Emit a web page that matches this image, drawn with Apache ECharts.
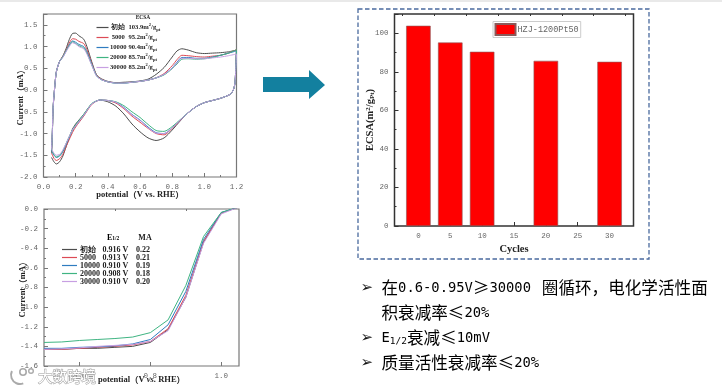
<!DOCTYPE html>
<html>
<head>
<meta charset="utf-8">
<title>ECSA</title>
<style>
  html, body { margin: 0; padding: 0; background: #fff; }
  #chart { width: 722px; height: 392px; filter: blur(0.35px); }
</style>
<script src="https://cdn.jsdelivr.net/npm/echarts@6/dist/echarts.min.js"></script>
</head>
<body>
<div id="chart"></div>
<script>
  // CV curves: anodic sweep, then back down from 1.2 V
  const cvPotential = [0.05,0.055,0.06,0.07,0.08,0.1,0.12,0.14,0.16,0.18,0.2,0.22,0.25,0.27,0.3,0.33,0.36,0.4,0.45,0.5,0.55,0.6,0.65,0.7,0.75,0.8,0.83,0.86,0.9,0.95,1.0,1.05,1.1,1.15,1.2,
    1.195,1.19,1.18,1.16,1.1,1.05,1.0,0.95,0.9,0.85,0.8,0.75,0.7,0.65,0.6,0.55,0.5,0.45,0.4,0.35,0.3,0.25,0.2,0.18,0.15,0.12,0.1,0.08,0.065,0.05];
  const cvInitial = [-1.45,-1,-0.4,0.08,0.42,0.66,0.78,0.95,1.16,1.3,1.31,1.25,1.17,1,0.65,0.35,0.26,0.2,0.17,0.18,0.19,0.21,0.25,0.36,0.52,0.76,0.9,0.95,0.92,0.86,0.84,0.85,0.86,0.88,0.92,
    0.45,0.15,0,-0.1,-0.19,-0.24,-0.29,-0.38,-0.52,-0.71,-0.92,-1.1,-1.16,-1.1,-0.96,-0.78,-0.55,-0.37,-0.27,-0.23,-0.32,-0.56,-0.78,-0.9,-1.2,-1.52,-1.65,-1.7,-1.65,-1.55];
  const cv5000 = [-1.42,-0.98,-0.4,0.08,0.42,0.66,0.77,0.92,1.08,1.18,1.17,1.12,1.07,0.93,0.62,0.34,0.25,0.19,0.17,0.17,0.18,0.2,0.23,0.28,0.38,0.56,0.7,0.8,0.79,0.77,0.76,0.78,0.8,0.85,0.93,
    0.45,0.15,0,-0.1,-0.19,-0.24,-0.29,-0.38,-0.52,-0.7,-0.88,-1.03,-1,-0.88,-0.74,-0.6,-0.43,-0.3,-0.24,-0.23,-0.33,-0.6,-0.85,-0.98,-1.22,-1.48,-1.58,-1.62,-1.57,-1.45];
  const cv10000 = [-1.4,-0.98,-0.4,0.08,0.42,0.66,0.76,0.9,1.04,1.13,1.1,1.05,1,0.88,0.6,0.33,0.24,0.19,0.16,0.16,0.18,0.2,0.23,0.28,0.36,0.51,0.64,0.75,0.75,0.73,0.73,0.76,0.8,0.85,0.9,
    0.45,0.15,0,-0.1,-0.19,-0.24,-0.29,-0.38,-0.52,-0.69,-0.87,-1,-0.98,-0.85,-0.69,-0.56,-0.4,-0.28,-0.24,-0.23,-0.32,-0.58,-0.82,-0.93,-1.17,-1.42,-1.52,-1.55,-1.5,-1.4];
  const cv20000 = [-1.38,-0.96,-0.38,0.08,0.42,0.66,0.76,0.9,1.02,1.11,1.07,1.02,0.97,0.85,0.58,0.33,0.24,0.19,0.16,0.16,0.18,0.2,0.23,0.28,0.35,0.49,0.6,0.71,0.72,0.71,0.72,0.75,0.8,0.85,0.93,
    0.45,0.15,0,-0.1,-0.19,-0.24,-0.29,-0.38,-0.52,-0.68,-0.84,-0.95,-0.93,-0.79,-0.63,-0.5,-0.36,-0.27,-0.24,-0.23,-0.31,-0.56,-0.8,-0.92,-1.15,-1.4,-1.5,-1.54,-1.48,-1.38];
  const cv30000 = [-1.36,-0.94,-0.38,0.08,0.42,0.66,0.75,0.88,1,1.09,1.06,1,0.95,0.83,0.57,0.32,0.24,0.19,0.16,0.16,0.18,0.2,0.23,0.28,0.36,0.5,0.62,0.73,0.73,0.72,0.72,0.74,0.76,0.79,0.83,
    0.45,0.15,0,-0.1,-0.19,-0.24,-0.29,-0.38,-0.52,-0.69,-0.87,-1,-0.99,-0.87,-0.7,-0.57,-0.41,-0.28,-0.24,-0.23,-0.32,-0.58,-0.82,-0.92,-1.15,-1.38,-1.48,-1.5,-1.45,-1.36];

  // polarization curves
  const lsvPotential = [0.5,0.55,0.6,0.65,0.7,0.75,0.8,0.85,0.9,0.95,1,1.05];
  const lsvInitial = [-1.43,-1.43,-1.42,-1.42,-1.41,-1.4,-1.36,-1.23,-0.9,-0.34,-0.04,0.02];
  const lsv5000 = [-1.43,-1.43,-1.42,-1.41,-1.4,-1.385,-1.35,-1.22,-0.88,-0.33,-0.04,0.02];
  const lsv10000 = [-1.42,-1.42,-1.41,-1.405,-1.395,-1.375,-1.33,-1.18,-0.84,-0.31,-0.035,0.02];
  const lsv20000 = [-1.36,-1.355,-1.34,-1.33,-1.32,-1.305,-1.26,-1.13,-0.78,-0.28,-0.035,0.02];
  const lsv30000 = [-1.43,-1.425,-1.415,-1.4,-1.39,-1.38,-1.35,-1.24,-0.9,-0.35,-0.05,0.02];

  // bars
  const barCycles = [0, 5, 10, 20, 30];
  const barEcsa = [103.9, 95.2, 90.4, 85.7, 85.2];
  const cycleTicks = [0, 5, 10, 15, 20, 25, 30];
  const cycleMinorTicks = [-2.5, 2.5, 7.5, 12.5, 17.5, 22.5, 27.5, 32.5];

  const seriesNames = ['初始', '5000', '10000', '20000', '30000'];
  const seriesColors = ['#4d4d4d', '#dc4a55', '#2f7cc0', '#3fb482', '#c79fe2'];
  const ecsaLabels = ['103.9', '95.2', '90.4', '85.7', '85.2'];
  const halfWaveLabels = ['0.916 V', '0.913 V', '0.910 V', '0.908 V', '0.910 V'];
  const massActivityLabels = ['0.22', '0.21', '0.19', '0.18', '0.20'];

  const serif = '"Liberation Serif", serif';
  const mono = '"Liberation Mono", monospace';
  const cjk = '"Noto Sans CJK SC", sans-serif';
  const latin = '"DejaVu Sans Mono", monospace';

  function pairs(xs, ys) {
    return xs.map((x, i) => [x, ys[i]]);
  }

  function valueAxis(gridIndex, min, max, interval, color) {
    return {
      type: 'value', gridIndex, min, max, interval,
      splitLine: { show: false },
      axisLine: { show: false, onZero: false },
      axisTick: { show: true, inside: true, length: 4, lineStyle: { color, width: 1 } },
      minorTick: { show: true, splitNumber: 2, length: 2, lineStyle: { color, width: 1 } },
      nameMoveOverlap: false,
      axisLabel: { fontFamily: mono, fontSize: 7.5, color: '#666', margin: 6,
        formatter: v => v.toFixed(1) }
    };
  }

  function minorAxis(gridIndex, min, max, ticks, color) {
    return {
      type: 'value', gridIndex, min, max,
      splitLine: { show: false },
      axisLine: { show: false, onZero: false },
      axisLabel: { show: false },
      axisTick: { show: true, inside: true, length: 2, customValues: ticks, lineStyle: { color, width: 1 } }
    };
  }

  const axisRich = {
    b: { fontFamily: serif, fontWeight: 'bold', fontSize: 8.5, color: '#222' },
    i: { fontFamily: serif, fontWeight: 'bold', fontStyle: 'italic', fontSize: 8.5, color: '#222' },
    h: { fontFamily: cjk, fontWeight: 'bold', fontSize: 8.5, color: '#222' }
  };

  const cvX = valueAxis(0, 0, 1.2, 0.2, '#777');
  Object.assign(cvX, { name: '{b|potential}{h|（}{b|V vs. RHE}{h|）}', nameLocation: 'middle', nameGap: 13,
    nameTextStyle: { rich: axisRich } });

  const cvY = valueAxis(0, -2, 1.75, 0.5, '#777');
  cvY.axisLabel.showMaxLabel = false;
  Object.assign(cvY, { name: '{b|Current}{h|（}{b|mA}{h|）}', nameLocation: 'middle', nameGap: 18,
    nameTextStyle: { rich: axisRich } });

  const lsvX = valueAxis(1, 0.5, 1.05, 0.2, '#777');
  delete lsvX.interval;
  lsvX.minorTick = { show: false };
  lsvX.axisTick.customValues = [0.6, 0.8, 1];
  lsvX.axisLabel.customValues = [0.6, 0.8, 1];
  Object.assign(lsvX, { name: '{b|potential}{h|（}{b|V }{i|vs.}{b| RHE}{h|）}', nameLocation: 'middle', nameGap: 9,
    nameTextStyle: { rich: axisRich } });

  const lsvY = valueAxis(1, -1.6, 0, 0.2, '#777');
  Object.assign(lsvY, { name: '{b|Current}{h|（}{b|mA}{h|）}', nameLocation: 'middle', nameGap: 17,
    nameTextStyle: { rich: axisRich } });

  const barX = valueAxis(2, -3.75, 33.75, 5, '#333');
  delete barX.interval;
  barX.minorTick = { show: false };
  barX.axisTick.customValues = cycleTicks;
  barX.axisLabel.customValues = cycleTicks;
  barX.axisLabel.formatter = v => String(v);
  Object.assign(barX, { name: 'Cycles', nameLocation: 'middle', nameGap: 18,
    nameTextStyle: { fontFamily: serif, fontWeight: 'bold', fontSize: 10.5, color: '#222' } });

  const barY = valueAxis(2, 0, 110, 20, '#333');
  barY.axisLabel.formatter = v => String(v);
  barY.axisLabel.showMaxLabel = false;
  Object.assign(barY, { name: '{b|ECSA(m}{s|2}{b|/g}{u|Pt}{b|)}', nameLocation: 'middle', nameGap: 19,
    nameTextStyle: { rich: {
      b: { fontFamily: serif, fontWeight: 'bold', fontSize: 10.5, color: '#222' },
      s: { fontFamily: serif, fontWeight: 'bold', fontSize: 7, color: '#222', verticalAlign: 'top' },
      u: { fontFamily: serif, fontWeight: 'bold', fontSize: 7, color: '#222', verticalAlign: 'bottom' }
    } } });

  const cvSeries = [cvInitial, cv5000, cv10000, cv20000, cv30000].map((ys, i) => ({
    name: seriesNames[i], type: 'line', xAxisIndex: 0, yAxisIndex: 0,
    data: pairs(cvPotential, ys), symbol: 'none', smooth: 0.25,
    lineStyle: { width: 1, color: seriesColors[i] }, itemStyle: { color: seriesColors[i] }
  }));
  const lsvSeries = [lsvInitial, lsv5000, lsv10000, lsv20000, lsv30000].map((ys, i) => ({
    name: seriesNames[i], type: 'line', xAxisIndex: 1, yAxisIndex: 1,
    data: pairs(lsvPotential, ys), symbol: 'none',
    lineStyle: { width: 1, color: seriesColors[i] }, itemStyle: { color: seriesColors[i] }
  }));

  const legendBold = { fontFamily: serif, fontWeight: 'bold', color: '#222' };
  const textDark = '#222';

  const option = {
    animation: false,
    backgroundColor: '#fff',
    grid: [
      { left: 43.5, top: 14, width: 193, height: 163, show: true, borderColor: '#777', borderWidth: 1.2 },
      { left: 44, top: 209, width: 195, height: 157, show: true, borderColor: '#777', borderWidth: 1.2 },
      { left: 394.5, top: 14, width: 239, height: 212, show: true, borderColor: '#333', borderWidth: 1.5 }
    ],
    xAxis: [cvX, lsvX, barX,
      minorAxis(1, 0.5, 1.05, [0.7, 0.9], '#777'),
      minorAxis(2, -3.75, 33.75, cycleMinorTicks, '#333')],
    yAxis: [cvY, lsvY, barY],
    legend: [
      {
        left: 96.5, top: 22.5, orient: 'vertical', icon: 'rect', itemWidth: 12, itemHeight: 1.2, itemGap: 0, padding: 0,
        data: seriesNames,
        formatter: name => {
          const i = seriesNames.indexOf(name);
          return `{n|${name}}{a|${ecsaLabels[i]}m}{s|2}{v|/g}{u|pt}`;
        },
        textStyle: { padding: [0, 0, 0, -2], rich: {
          n: { ...legendBold, fontSize: 6.6, width: 13.5, align: 'right', lineHeight: 10 },
          a: { ...legendBold, fontSize: 6.6, padding: [0, 0, 0, 3.5], lineHeight: 10 },
          v: { ...legendBold, fontSize: 6.6, lineHeight: 10 },
          s: { ...legendBold, fontSize: 4.5, verticalAlign: 'top', lineHeight: 10 },
          u: { ...legendBold, fontSize: 4.5, verticalAlign: 'bottom', lineHeight: 10 }
        } }
      },
      {
        left: 62, top: 245.5, orient: 'vertical', icon: 'rect', itemWidth: 15, itemHeight: 1.2, itemGap: 0, padding: 0,
        data: seriesNames,
        formatter: name => {
          const i = seriesNames.indexOf(name);
          return `{n|${name}}{e|${halfWaveLabels[i]}}{m|${massActivityLabels[i]}}`;
        },
        textStyle: { padding: [0, 0, 0, -2], rich: {
          n: { ...legendBold, fontSize: 8, width: 22, lineHeight: 10.2 },
          e: { ...legendBold, fontSize: 8, width: 27, align: 'center', lineHeight: 10.2 },
          m: { ...legendBold, fontSize: 8, padding: [0, 0, 0, 7], lineHeight: 10.2 }
        } }
      },
      {
        left: 493, top: 21.5, itemWidth: 20, itemHeight: 11, padding: [1.5, 2, 1.5, 1.5],
        borderColor: '#ccc', borderWidth: 1, backgroundColor: '#fff', icon: 'rect',
        data: ['HZJ-1200Pt50'],
        textStyle: { fontFamily: mono, fontSize: 8.5, color: '#666', padding: [0, 0, 0, -3] }
      }
    ],
    series: [...cvSeries, ...lsvSeries, {
      name: 'HZJ-1200Pt50', type: 'bar', xAxisIndex: 2, yAxisIndex: 2,
      data: pairs(barCycles, barEcsa), barWidth: 24.5,
      itemStyle: { color: '#ff0000', borderColor: '#8a5a5a', borderWidth: 0.6 }
    }],
    graphic: [
      { type: 'rect', shape: { x: 0, y: 0, width: 722, height: 2 }, style: { fill: '#e9e9e9' } },
      { type: 'rect', shape: { x: 358, y: 9, width: 291, height: 250 },
        style: { fill: 'none', stroke: '#4a6a9e', lineWidth: 1.3, lineDash: [4.5, 2.5] } },
      { type: 'polygon', shape: { points: [[263, 77], [309, 77], [309, 70], [325, 85], [309, 99], [309, 92], [263, 92]] },
        style: { fill: '#13809f' } },
      { type: 'text', style: { x: 143, y: 18, text: 'ECSA', align: 'center', verticalAlign: 'middle',
        font: 'bold 5.5px "Liberation Serif", serif', fill: '#222' } },
      { type: 'text', style: { x: 107, y: 238, align: 'left', verticalAlign: 'middle', text: '{b|E}{u|1/2}',
        rich: { b: { ...legendBold, fontSize: 8 }, u: { ...legendBold, fontSize: 5.5, verticalAlign: 'bottom' } } } },
      { type: 'text', style: { x: 145, y: 238, text: 'MA', align: 'center', verticalAlign: 'middle',
        font: 'bold 8px "Liberation Serif", serif', fill: '#222' } },

      // bullet list
      ...[288, 338, 363].map(y => ({ type: 'text', style: { x: 360.5, y, text: '➢', verticalAlign: 'middle',
        font: 'bold 15px "DejaVu Sans", sans-serif', fill: '#111' } })),
      { type: 'text', style: { x: 381.5, y: 288, verticalAlign: 'middle',
        text: '{c|在}{l|0.6-0.95V}{c|≥}{l|30000 }{g|圈循环，电化学活性面}', rich: bulletRich() } },
      { type: 'text', style: { x: 381.5, y: 313, verticalAlign: 'middle',
        text: '{c|积衰减率≤}{l|20%}', rich: bulletRich() } },
      { type: 'text', style: { x: 381.5, y: 338, verticalAlign: 'middle',
        text: '{l|E}{u|1/2}{c|衰减≤}{l|10mV}', rich: bulletRich() } },
      { type: 'text', style: { x: 381.5, y: 363, verticalAlign: 'middle',
        text: '{c|质量活性衰减率≤}{l|20%}', rich: bulletRich() } },

      // watermark
      { type: 'ring', z: 50, shape: { cx: 23, cy: 372, r: 4, r0: 2.4 }, style: { fill: '#aaa' } },
      { type: 'ring', z: 50, shape: { cx: 31, cy: 371, r: 3, r0: 1.6 }, style: { fill: '#aaa' } },
      { type: 'arc', z: 50, shape: { cx: 20, cy: 375, r: 9, startAngle: 1.2, endAngle: 3.6 },
        style: { stroke: '#aaa', fill: 'none', lineWidth: 2 } },
      { type: 'text', z: 50, style: { x: 38, y: 376, text: '大数跨境', verticalAlign: 'middle',
        font: '14.5px "Noto Sans CJK SC", sans-serif', fill: '#fff', stroke: '#999', lineWidth: 1 } }
    ]
  };

  function bulletRich() {
    return {
      c: { fontFamily: cjk, fontSize: 16.6, color: textDark },
      g: { fontFamily: cjk, fontSize: 16.6, color: textDark, padding: [0, 0, 0, 2.5] },
      l: { fontFamily: latin, fontSize: 13.8, color: textDark },
      u: { fontFamily: latin, fontSize: 9.5, color: textDark, verticalAlign: 'bottom' }
    };
  }

  const chart = echarts.init(document.getElementById('chart'));
  chart.setOption(option);
</script>
</body>
</html>
